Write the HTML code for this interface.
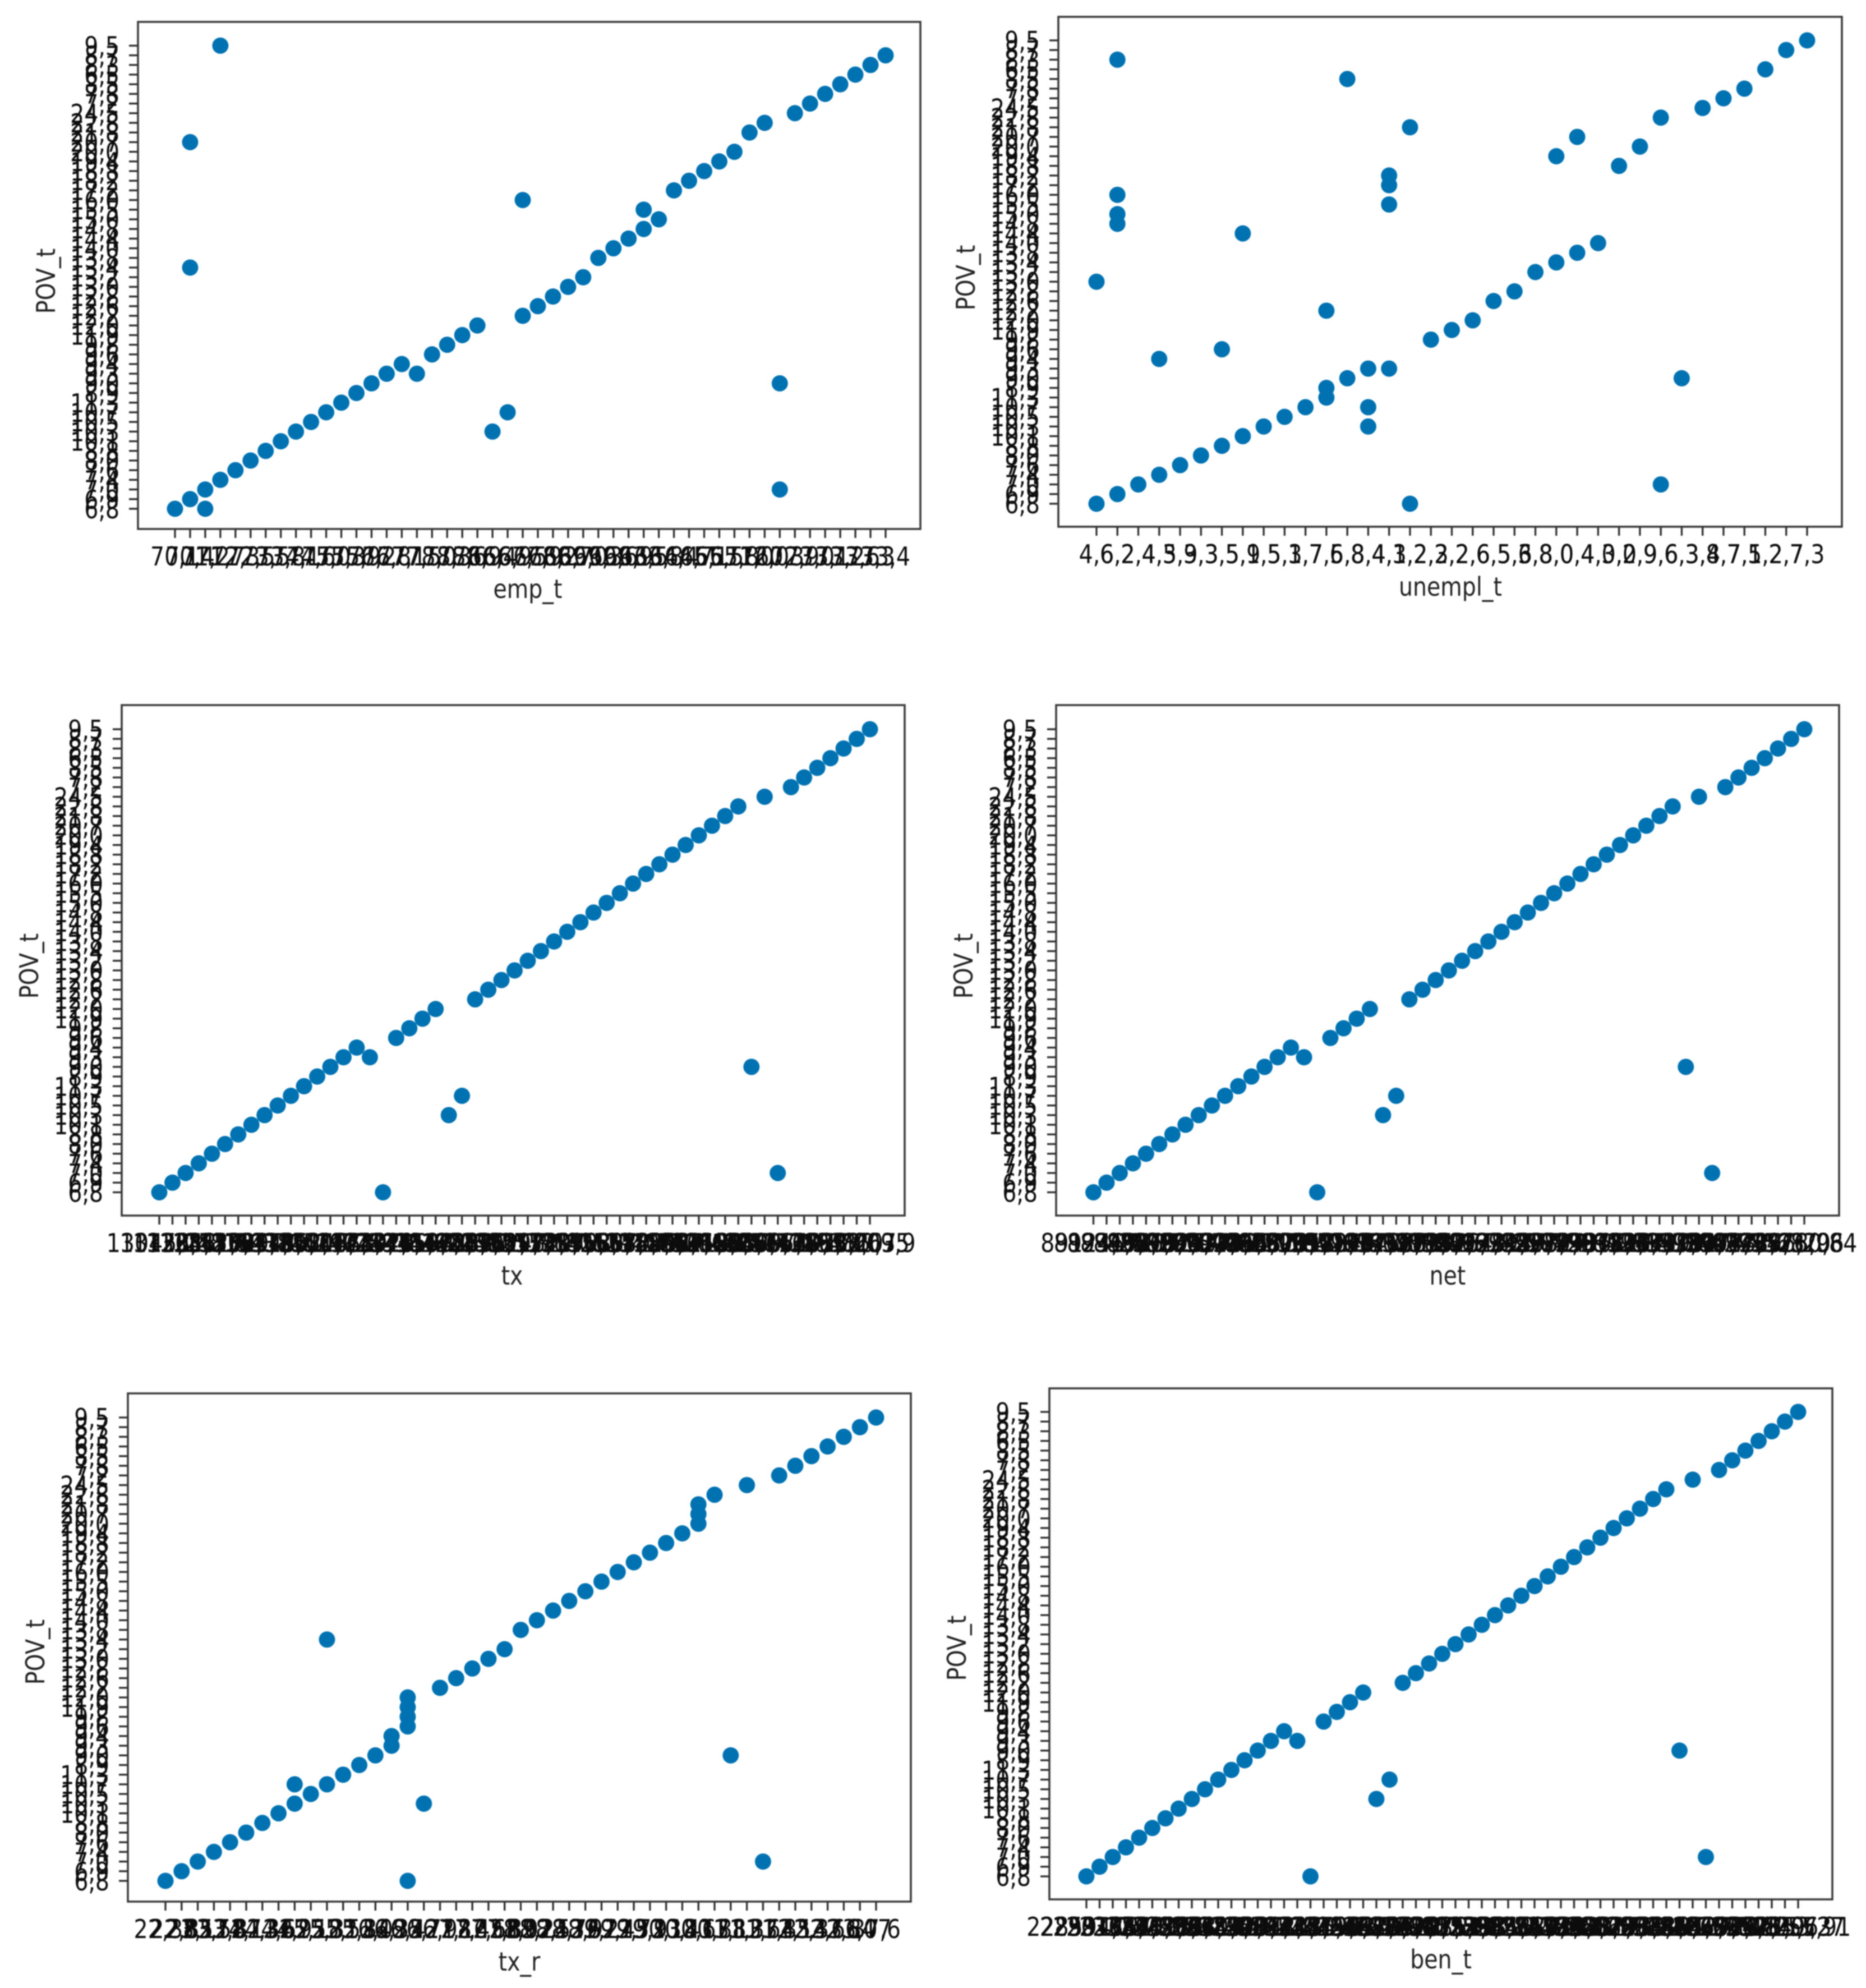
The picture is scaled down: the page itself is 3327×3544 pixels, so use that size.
<!DOCTYPE html>
<html lang="en">
<head>
<meta charset="utf-8">
<title>POV_t scatter grid</title>
<style>
html,body{margin:0;padding:0;background:#fff;}
svg{display:block;filter:blur(1.1px);}
text{font-family:"DejaVu Sans","Liberation Sans",sans-serif;font-size:39.5px;fill:#0c0c0c;}
.frame{fill:none;stroke:#3c3c3c;stroke-width:3.6;}
.title{fill:#222;}
</style>
</head>
<body>
<svg id="figure" xmlns="http://www.w3.org/2000/svg" width="3327" height="3544" viewBox="0 0 3327 3544">
  <rect x="0" y="0" width="3327" height="3544" fill="#fff"/>

  <g id="panel-emp">
    <rect class="frame" x="246" y="39" width="1395" height="904"/>
    <text class="title" transform="translate(941,1066) scale(1,1.17)" text-anchor="middle">emp_t</text>
    <text class="title" transform="translate(98,501) rotate(-90) scale(1,1.17)" text-anchor="middle">POV_t</text>
  </g>
  <g id="panel-unempl">
    <rect class="frame" x="1887" y="30" width="1397" height="909"/>
    <text class="title" transform="translate(2586,1062) scale(1,1.17)" text-anchor="middle">unempl_t</text>
    <text class="title" transform="translate(1738,495) rotate(-90) scale(1,1.17)" text-anchor="middle">POV_t</text>
  </g>
  <g id="panel-tx">
    <rect class="frame" x="217" y="1257" width="1396" height="910"/>
    <text class="title" transform="translate(913,2290) scale(1,1.17)" text-anchor="middle">tx</text>
    <text class="title" transform="translate(68,1722) rotate(-90) scale(1,1.17)" text-anchor="middle">POV_t</text>
  </g>
  <g id="panel-net">
    <rect class="frame" x="1883" y="1257" width="1396" height="910"/>
    <text class="title" transform="translate(2581,2290) scale(1,1.17)" text-anchor="middle">net</text>
    <text class="title" transform="translate(1734,1722) rotate(-90) scale(1,1.17)" text-anchor="middle">POV_t</text>
  </g>
  <g id="panel-txr">
    <rect class="frame" x="228" y="2484" width="1396" height="906"/>
    <text class="title" transform="translate(926,3513) scale(1,1.17)" text-anchor="middle">tx_r</text>
    <text class="title" transform="translate(79,2945) rotate(-90) scale(1,1.17)" text-anchor="middle">POV_t</text>
  </g>
  <g id="panel-ben">
    <rect class="frame" x="1871" y="2475" width="1396" height="911"/>
    <text class="title" transform="translate(2569,3509) scale(1,1.17)" text-anchor="middle">ben_t</text>
    <text class="title" transform="translate(1722,2938) rotate(-90) scale(1,1.17)" text-anchor="middle">POV_t</text>
  </g>
</svg>

<script>
// Shared y categories (bottom to top)
const povLabels = ["6,8","6,9","7,0","7,4","7,6","8,0","8,8","10,1","10,3","10,5","10,7","11,3","8,9","9,0","9,3","9,4","9,6","9,8","11,9","12,0","12,2","12,6","12,8","13,0","13,2","13,4","13,8","14,0","14,4","14,8","15,0","15,5","16,0","17,2","18,2","18,8","19,4","20,0","20,7","21,8","22,8","24,5","7,2","7,8","8,5","6,5","8,3","8,7","9,5"];

// emp_t
const empLabels = ["70,1","70,4","71,2","71,7","72,3","72,5","73,5","73,8","74,1","74,6","75,0","75,3","75,9","76,2","76,8","77,1","77,5","78,0","78,3","78,6","78,9","66,4","66,9","67,5","67,9","68,2","68,7","69,0","69,3","69,6","69,9","63,5","63,8","64,4","64,7","65,1","65,5","65,8","71,0","72,0","60,3","72,9","73,0","73,1","73,2","73,6","73,3","73,4"];
const empX = [0,1,2,2,3,4,5,6,7,8,9,10,11,12,13,14,15,16,17,18,19,20,21,22,23,23,24,25,26,27,28,29,30,31,32,31,33,34,35,36,37,38,39,41,42,43,44,45,46,47,40,40,1,1,3];
const empY = [0,1,0,2,3,4,5,6,7,8,9,10,11,12,13,14,15,14,16,17,18,19,8,10,20,32,21,22,23,24,26,27,28,29,30,31,33,34,35,36,37,39,40,41,42,43,44,45,46,47,13,2,25,38,48];

// unempl_t
const unemplLabels = ["4,6","6,2","2,4","4,5","3,9","3,3","3,5","5,9","1,5","5,3","1,7","7,5","6,8","8,4","4,1","3,2","2,3","2,2","2,6","6,5","5,6","3,8","8,0","0,4","4,0","3,0","2,9","9,6","6,3","3,4","8,7","7,1","5,2","2,7","7,3"];
const unemplX = [0,1,2,3,4,5,6,7,8,9,10,11,11,12,13,14,16,17,18,19,20,21,22,23,24,25,26,27,29,30,31,32,33,34,1,12,15,23,22,14,14,14,1,1,1,7,0,11,6,3,28,13,13,27,15];
const unemplY = [0,1,2,3,4,5,6,7,8,9,10,11,12,13,14,14,17,18,19,21,22,24,25,26,27,35,37,40,41,42,43,45,47,48,46,44,39,38,36,34,33,31,32,30,29,28,23,20,16,15,13,10,8,2,0];

// tx
const txLabels = ["13045,25","13128,42","13204,87","13288,16","13361,54","13427,93","13502,38","13589,71","13644,05","13718,62","13795,19","13862,40","13934,77","14016,28","14087,53","14163,91","14229,36","14302,84","14378,12","14445,60","14519,27","14597,03","14662,48","14738,95","14803,21","14876,57","14951,39","15024,76","15098,14","15172,82","15249,05","15317,63","15390,27","15468,91","15533,40","15607,18","15682,75","15749,32","15826,09","15894,66","15967,43","16041,80","16118,25","16192,57","16268,04","16335,72","16409,38","16487,15","16554,93","16629,41","16703,86","16778,20","16852,67","16930,35","17009,9"];
const txX = [0,1,2,3,4,5,6,7,8,9,10,11,12,13,14,15,16,17,18,19,20,21,22,23,24,25,26,27,28,29,30,31,32,33,34,35,36,37,38,39,40,41,42,43,44,45,46,47,48,49,50,51,52,53,54];
const txY = [0,1,2,3,4,5,6,7,8,9,10,11,12,13,14,15,14,0,16,17,18,19,8,10,20,21,22,23,24,25,26,27,28,29,30,31,32,33,34,35,36,37,38,39,40,13,41,2,42,43,44,45,46,47,48];

// net
const netLabels = ["89124,25","89236,48","89317,92","89405,16","89526,73","89618,30","89702,57","89815,44","89943,08","90027,61","90138,25","90246,79","90354,12","90467,38","90582,95","90673,41","90761,26","90858,63","90972,17","91084,50","91196,32","91287,75","91373,09","91468,54","91576,28","91683,46","91795,13","91882,67","91976,39","92064,85","92173,21","92281,58","92394,04","92487,72","92593,36","92682,19","92794,61","92873,47","92986,25","93075,83","93182,14","93296,57","93384,92","93471,38","93589,06","93678,43","93782,29","93867,75","93974,11","94083,52","94172,68","94285,37","94396,20","94478,96","95260,84"];
const netX = [0,1,2,3,4,5,6,7,8,9,10,11,12,13,14,15,16,17,18,19,20,21,22,23,24,25,26,27,28,29,30,31,32,33,34,35,36,37,38,39,40,41,42,43,44,45,46,47,48,49,50,51,52,53,54];
const netY = [0,1,2,3,4,5,6,7,8,9,10,11,12,13,14,15,14,0,16,17,18,19,8,10,20,21,22,23,24,25,26,27,28,29,30,31,32,33,34,35,36,37,38,39,40,13,41,2,42,43,44,45,46,47,48];

// tx_r
const txrLabels = ["22,38","22,85","23,17","23,58","23,87","24,13","24,36","24,62","24,95","25,18","25,31","25,53","25,84","26,09","26,35","26,42","26,71","26,98","27,16","27,45","27,68","27,89","28,02","28,24","28,53","28,76","28,97","29,21","29,45","29,72","29,93","30,18","30,41","30,67","30,88","31,12","31,37","31,64","31,85","32,14","32,37","32,66","32,84","33,07","37,6"];
const txrX = [0,1,2,3,4,5,6,7,8,9,10,11,12,13,14,14,15,15,15,15,17,18,19,20,21,22,23,24,25,26,27,28,29,30,31,32,33,33,33,34,36,38,39,40,41,42,43,44,8,10,15,16,35,37];
const txrY = [0,1,2,3,4,5,6,7,8,9,10,11,12,13,14,15,16,17,18,19,20,21,22,23,24,26,27,28,29,30,31,32,33,34,35,36,37,38,39,40,41,42,43,44,45,46,47,48,10,25,0,8,13,2];

// ben_t
const benLabels = ["228594,75","229317,42","230186,09","231042,68","231875,23","232609,51","233418,87","234276,14","235093,36","235841,92","236607,58","237482,05","238319,71","239064,27","239872,64","240631,19","241408,83","242275,46","243019,38","243796,02","244583,57","245347,21","246120,94","246893,60","247661,13","248428,75","249207,39","249986,08","250754,62","251513,27","252298,85","253071,44","253846,19","254617,73","255389,36","256162,01","256938,67","257704,28","258483,95","259251,52","260027,14","260793,88","261568,43","262341,07","263119,76","263884,31","264652,95","265427,62","266193,18","266978,84","267742,39","268517,06","269285,73","270053,27","36955,91"];
const benX = [0,1,2,3,4,5,6,7,8,9,10,11,12,13,14,15,16,17,18,19,20,21,22,23,24,25,26,27,28,29,30,31,32,33,34,35,36,37,38,39,40,41,42,43,44,45,46,47,48,49,50,51,52,53,54];
const benY = [0,1,2,3,4,5,6,7,8,9,10,11,12,13,14,15,14,0,16,17,18,19,8,10,20,21,22,23,24,25,26,27,28,29,30,31,32,33,34,35,36,37,38,39,40,13,41,2,42,43,44,45,46,47,48];

const NS = "http://www.w3.org/2000/svg";
const markerColor = "#0072b2";
const textStretch = 1.17;

function linearScale(d0, d1, r0, r1) {
  return function (v) { return r0 + (v - d0) * (r1 - r0) / (d1 - d0); };
}

function drawPanel(key, xLabels, xVals, yVals, box) {
  const group = document.getElementById("panel-" + key);
  const xAxis = linearScale(0, xLabels.length - 1, box.xStart, box.xEnd);
  const yAxis = linearScale(0, povLabels.length - 1, box.yStart, box.yEnd);

  xLabels.forEach(function (label, i) {
    const tick = document.createElementNS(NS, "line");
    
    
    tick.setAttribute("x1", xAxis(i));
    tick.setAttribute("x2", xAxis(i));
    tick.setAttribute("y1", box.bottom);
    tick.setAttribute("y2", box.bottom + 16);
    tick.setAttribute("stroke", "#333");
    tick.setAttribute("stroke-width", "3.4");
    group.appendChild(tick);

    const text = document.createElementNS(NS, "text");
    
    
    text.setAttribute("transform", "translate(" + xAxis(i) + "," + (box.bottom + 65) + ") scale(1," + textStretch + ")");
    text.setAttribute("text-anchor", "middle");
    text.textContent = label;
    group.appendChild(text);
  });

  povLabels.forEach(function (label, i) {
    const tick = document.createElementNS(NS, "line");
    
    
    tick.setAttribute("x1", box.left - 16);
    tick.setAttribute("x2", box.left);
    tick.setAttribute("y1", yAxis(i));
    tick.setAttribute("y2", yAxis(i));
    tick.setAttribute("stroke", "#333");
    tick.setAttribute("stroke-width", "3.4");
    group.appendChild(tick);

    const text = document.createElementNS(NS, "text");
    
    
    text.setAttribute("transform", "translate(" + (box.left - 33) + "," + (yAxis(i) + 17) + ") scale(1," + textStretch + ")");
    text.setAttribute("text-anchor", "end");
    text.textContent = label;
    group.appendChild(text);
  });

  xVals.forEach(function (xv, i) {
    const dot = document.createElementNS(NS, "circle");
    
    
    dot.setAttribute("cx", xAxis(xv));
    dot.setAttribute("cy", yAxis(yVals[i]));
    dot.setAttribute("r", "14.5");
    dot.setAttribute("fill", markerColor);
    group.appendChild(dot);
  });
}

drawPanel("emp", empLabels, empX, empY, {left: 246, bottom: 943, xStart: 312, xEnd: 1579, yStart: 907, yEnd: 81.4});
drawPanel("unempl", unemplLabels, unemplX, unemplY, {left: 1887, bottom: 939, xStart: 1955, xEnd: 3222, yStart: 898, yEnd: 72});
drawPanel("tx", txLabels, txX, txY, {left: 217, bottom: 2167, xStart: 284, xEnd: 1551, yStart: 2125.5, yEnd: 1300});
drawPanel("net", netLabels, netX, netY, {left: 1883, bottom: 2167, xStart: 1949.5, xEnd: 3217, yStart: 2125.5, yEnd: 1300});
drawPanel("txr", txrLabels, txrX, txrY, {left: 228, bottom: 3390, xStart: 295, xEnd: 1562, yStart: 3353, yEnd: 2527});
drawPanel("ben", benLabels, benX, benY, {left: 1871, bottom: 3386, xStart: 1937, xEnd: 3206, yStart: 3345, yEnd: 2517});
</script>
</body>
</html>
